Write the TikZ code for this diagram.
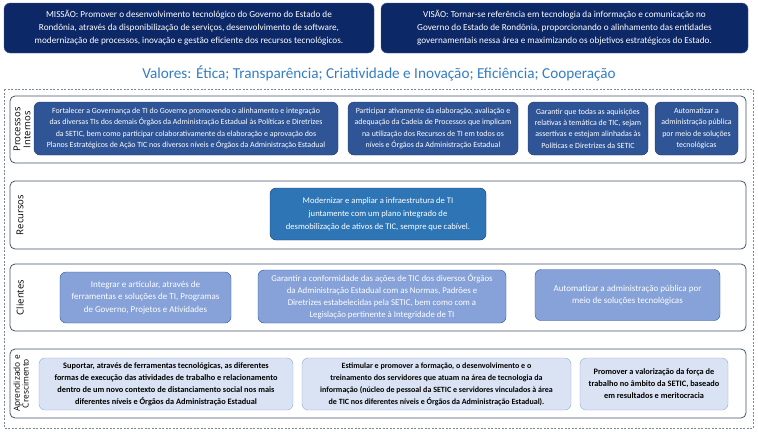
\documentclass[tikz,border=0pt]{standalone}
\usepackage{fontspec}
\setmainfont{Carlito}
\newfontfamily\labelfont{Open Sans}
\usepackage{xcolor}
\definecolor{navy}{RGB}{13,40,102}
\definecolor{navyedge}{RGB}{70,95,150}
\definecolor{procblue}{RGB}{47,85,151}
\definecolor{procedge}{RGB}{32,56,100}
\definecolor{recblue}{RGB}{46,117,182}
\definecolor{cliblue}{RGB}{134,162,216}
\definecolor{apreblue}{RGB}{218,227,243}
\definecolor{apreedge}{RGB}{143,170,220}
\definecolor{rowedge}{RGB}{68,84,106}
\definecolor{valblue}{RGB}{52,125,195}

\begin{document}
\begin{tikzpicture}[x=1pt,y=-1pt,
  topbox/.style={draw=navyedge,fill=navy,rounded corners=6pt,text=white,align=center,inner sep=0pt,font=\fontsize{9.2}{13}\selectfont},
  procbox/.style={draw=procedge,fill=procblue,rounded corners=6pt,text=white,align=center,inner sep=0pt,font=\fontsize{7.9}{11.2}\selectfont},
  recbox/.style={draw=procedge,fill=recblue,rounded corners=6pt,text=white,align=center,inner sep=0pt,font=\fontsize{8.6}{13}\selectfont},
  clibox/.style={draw=procblue,fill=cliblue,rounded corners=6pt,text=white,align=center,inner sep=0pt,font=\fontsize{9}{12.5}\selectfont},
  aprebox/.style={draw=apreedge,fill=apreblue,rounded corners=6pt,text=black,align=center,inner sep=0pt,font=\bfseries\fontsize{8.3}{12}\selectfont},
  rowbox/.style={draw=rowedge,line width=0.8pt,fill=white,rounded corners=5pt},
  rowlabel/.style={rotate=90,align=center,inner sep=0pt,font=\labelfont\fontsize{9.5}{10}\selectfont}]
\useasboundingbox (0,0) rectangle (758,432);
% 使命与愿景
\node[topbox,minimum width=370,minimum height=50] (missao) at (189,28)
  {MISSÃO: Promover o desenvolvimento tecnológico do Governo do Estado de\\
   Rondônia, através da disponibilização de serviços, desenvolvimento de software,\\
   modernização de processos, inovação e gestão eficiente dos recursos tecnológicos.};
\node[topbox,minimum width=367,minimum height=50] (visao) at (564.5,28)
  {VISÃO: Tornar-se referência em tecnologia da informação e comunicação no\\
   Governo do Estado de Rondônia, proporcionando o alinhamento das entidades\\
   governamentais nessa área e maximizando os objetivos estratégicos do Estado.};
% 价值观
\node[text=valblue,font=\fontsize{15.2}{17}\selectfont] (valores) at (379,73)
  {Valores: Ética; Transparência; Criatividade e Inovação; Eficiência; Cooperação};
% 外框
\draw[rowedge!70,dash pattern=on 2pt off 1.5pt] (4,89) rectangle (753,428);
% 四行
\draw[rowbox] (10,96) rectangle (746,163);
\draw[rowbox] (10,181) rectangle (746,249);
\draw[rowbox] (10,264) rectangle (746,331);
\draw[rowbox] (10,349) rectangle (746,418);
\node[rowlabel] (lproc) at (22,129.5) {Processos\\Internos};
\node[rowlabel] (lrec) at (20,215) {Recursos};
\node[rowlabel] (lcli) at (20,297.5) {Clientes};
\node[rowlabel,font=\labelfont\fontsize{8.4}{8.8}\selectfont] (lapre) at (21,383.5) {Aprendizado e\\Crescimento};
% 流程
\node[procbox,minimum width=304,minimum height=53] (p1) at (186,128.5)
  {Fortalecer a Governança de TI do Governo promovendo o alinhamento e integração\\
   das diversas TIs dos demais Órgãos da Administração Estadual às Políticas e Diretrizes\\
   da SETIC, bem como participar colaborativamente da elaboração e aprovação dos\\
   Planos Estratégicos de Ação TIC nos diversos níveis e Órgãos da Administração Estadual};
\node[procbox,minimum width=170,minimum height=53] (p2) at (433,128.5)
  {Participar ativamente da elaboração, avaliação e\\
   adequação da Cadeia de Processos que implicam\\
   na utilização dos Recursos de TI em todos os\\
   níveis e Órgãos da Administração Estadual};
\node[procbox,minimum width=120,minimum height=53] (p3) at (588,128.5)
  {Garantir que todas as aquisições\\
   relativas à temática de TIC, sejam\\
   assertivas e estejam alinhadas às\\
   Políticas e Diretrizes da SETIC};
\node[procbox,minimum width=83,minimum height=53] (p4) at (696.5,128.5)
  {Automatizar a\\administração pública\\por meio de soluções\\tecnológicas};
% 资源
\node[recbox,minimum width=216,minimum height=52] (r1) at (378,214)
  {Modernizar e ampliar a infraestrutura de TI\\
   juntamente com um plano integrado de\\
   desmobilização de ativos de TIC, sempre que cabível.};
% 客户
\node[clibox,minimum width=171,minimum height=51] (c1) at (145.5,297.5)
  {Integrar e articular, através de\\
   ferramentas e soluções de TI, Programas\\
   de Governo, Projetos e Atividades};
\node[clibox,font=\fontsize{8.8}{12}\selectfont,minimum width=248,minimum height=53] (c2) at (382,296.5)
  {Garantir a conformidade das ações de TIC dos diversos Órgãos\\
   da Administração Estadual com as Normas, Padrões e\\
   Diretrizes estabelecidas pela SETIC, bem como com a\\
   Legislação pertinente à Integridade de TI};
\node[clibox,minimum width=185,minimum height=51] (c3) at (627.5,295)
  {Automatizar a administração pública por\\meio de soluções tecnológicas};
% 学习与成长
\node[aprebox,minimum width=254,minimum height=52] (a1) at (166,384)
  {Suportar, através de ferramentas tecnológicas, as diferentes\\
   formas de execução das atividades de trabalho e relacionamento\\
   dentro de um novo contexto de distanciamento social nos mais\\
   diferentes níveis e Órgãos da Administração Estadual};
\node[aprebox,font=\bfseries\fontsize{8}{12}\selectfont,minimum width=269,minimum height=52] (a2) at (436.5,384)
  {Estimular e promover a formação, o desenvolvimento e o\\
   treinamento dos servidores que atuam na área de tecnologia da\\
   informação (núcleo de pessoal da SETIC e servidores vinculados à área\\
   de TIC nos diferentes níveis e Órgãos da Administração Estadual).};
\node[aprebox,minimum width=148,minimum height=52] (a3) at (654,384)
  {Promover a valorização da força de\\
   trabalho no âmbito da SETIC, baseado\\
   em resultados e meritocracia};
\end{tikzpicture}
\end{document}
